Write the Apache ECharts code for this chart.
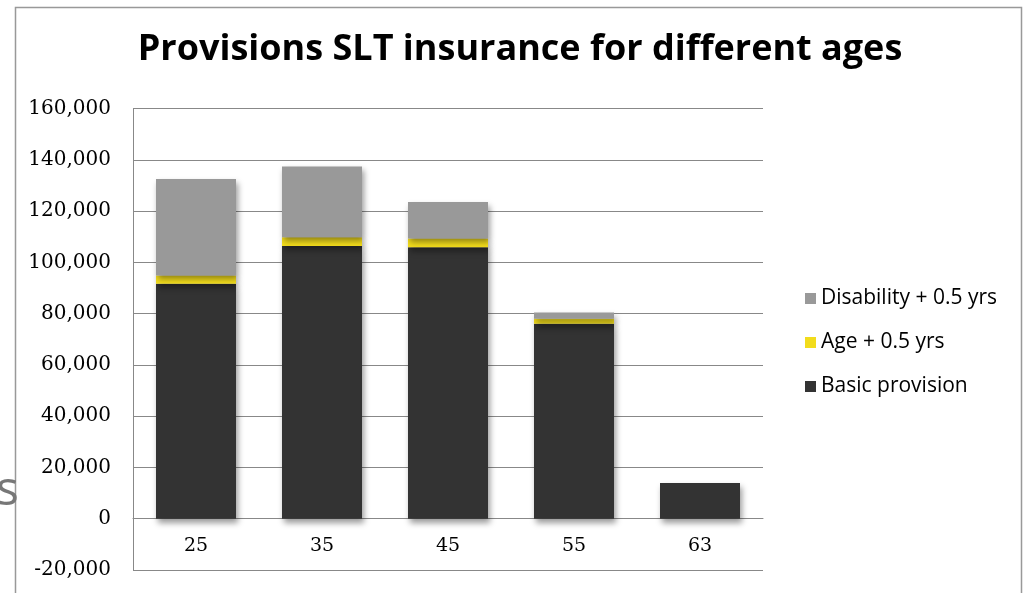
<!DOCTYPE html>
<html>
<head>
<meta charset="utf-8">
<script src="https://cdn.jsdelivr.net/npm/echarts@6/dist/echarts.min.js"></script>
<style>
  html, body { margin: 0; padding: 0; background: #fff; }
  #main { width: 1025px; height: 593px; }
</style>
</head>
<body>
<div id="main"></div>
<script>
// ages on the x axis
var ages = ['25', '35', '45', '55', '63'];
// stacked parts
var basicProvision = [91600, 106400, 105900, 76000, 13900];
var agePlusHalf = [3300, 3400, 3400, 2000, 0];
var disabilityPlusHalf = [37600, 27600, 14200, 2400, 0];

var chart = echarts.init(document.getElementById('main'));

var barShadow = {
    shadowColor: 'rgba(0,0,0,0.4)',
    shadowBlur: 6,
    shadowOffsetX: 2,
    shadowOffsetY: 4
};

// one y step in px, used to lift the x labels up to the zero line
var stepPx = (593 - 23 - 108.5) / 9;

var option = {
    animation: false,
    title: {
        text: 'Provisions SLT insurance for different ages',
        left: 515,
        textAlign: 'center',
        top: 27,
        textStyle: {
            fontFamily: 'Open Sans',
            fontWeight: 'bold',
            fontSize: 36,
            color: '#000'
        }
    },
    legend: {
        orient: 'vertical',
        left: 800,
        top: 283,
        itemGap: 23,
        itemWidth: 11,
        itemHeight: 11,
        icon: 'rect',
        data: ['Disability + 0.5 yrs', 'Age + 0.5 yrs', 'Basic provision'],
        textStyle: { fontFamily: 'Open Sans', fontSize: 21, color: '#000' }
    },
    grid: {
        left: 133,
        right: 262,
        top: 108.5,
        bottom: 23,
        outerBoundsMode: 'none',
        containLabel: false
    },
    xAxis: {
        type: 'category',
        data: ages,
        offset: -stepPx,
        axisLine: { onZero: false, lineStyle: { color: '#888', width: 1 } },
        axisTick: { show: false },
        axisLabel: {
            fontFamily: 'DejaVu Serif',
            fontSize: 19,
            color: '#000',
            margin: 18
        }
    },
    yAxis: {
        type: 'value',
        min: -20000,
        max: 160000,
        interval: 20000,
        axisLine: { show: true, lineStyle: { color: '#888' } },
        axisTick: { show: false },
        splitLine: { lineStyle: { color: '#888', width: 1 } },
        axisLabel: {
            fontFamily: 'DejaVu Serif',
            fontSize: 20,
            color: '#000',
            margin: 22,
            formatter: function (v) { return v.toLocaleString('en-US'); }
        }
    },
    series: [
        {
            name: 'Basic provision',
            type: 'bar',
            stack: 'total',
            barWidth: 80,
            data: basicProvision,
            itemStyle: Object.assign({ color: '#333333' }, barShadow)
        },
        {
            name: 'Age + 0.5 yrs',
            type: 'bar',
            stack: 'total',
            data: agePlusHalf,
            itemStyle: Object.assign({ color: '#f2dc1c' }, barShadow)
        },
        {
            name: 'Disability + 0.5 yrs',
            type: 'bar',
            stack: 'total',
            data: disabilityPlusHalf,
            itemStyle: Object.assign({ color: '#999999' }, barShadow)
        }
    ],
    graphic: [
        {
            type: 'rect',
            shape: { x: 15.5, y: 7.5, width: 1006, height: 600 },
            style: { fill: 'none', stroke: '#999', lineWidth: 1.5 },
            z: 0
        },
        {
            type: 'text',
            left: -4,
            top: 467,
            style: { text: 's', font: '48px "Open Sans"', fill: '#777' }
        }
    ]
};

chart.setOption(option);
</script>
</body>
</html>
